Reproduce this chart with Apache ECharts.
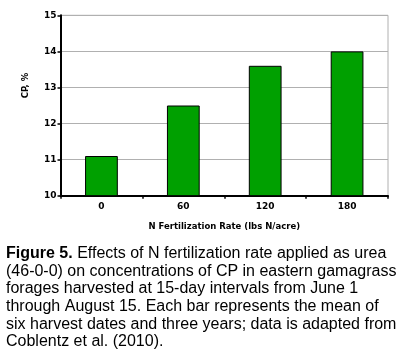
<!DOCTYPE html>
<html><head><meta charset="utf-8">
<script src="https://cdn.jsdelivr.net/npm/echarts@6/dist/echarts.min.js"></script>
<style>html,body{margin:0;padding:0;background:#fff}#c{width:400px;height:358px}</style>
</head><body><div id="c"></div>
<script>
var categories = ['0', '60', '120', '180'];
var cpValues = [11.1, 12.5, 13.6, 14.0];
var captionLines = [
  'Effects of N fertilization rate applied as urea',
  '(46-0-0) on concentrations of CP in eastern gamagrass',
  'forages harvested at 15-day intervals from June 1',
  'through August 15. Each bar represents the mean of',
  'six harvest dates and three years; data is adapted from',
  'Coblentz et al. (2010).'
];
var chart = echarts.init(document.getElementById('c'), null, {renderer: 'canvas'});
var font = 'Arial, "Liberation Sans", sans-serif';
var axFont = '"DejaVu Sans", sans-serif';
chart.setOption({
  animation: false,
  backgroundColor: '#fff',
  title: {
    left: 1, top: 240,
    text: '{b|Figure 5.} ' + captionLines.join('\n'),
    textStyle: {
      fontFamily: font, fontSize: 16, fontWeight: 'normal', color: '#000', lineHeight: 17.6,
      rich: { b: { fontFamily: font, fontSize: 16, fontWeight: 'bold', color: '#000', lineHeight: 17.6 } }
    }
  },
  grid: { left: 60.5, right: 12, top: 15.3, bottom: 162.3, show: true, borderColor: '#b0b0b0', borderWidth: 1 },
  xAxis: {
    type: 'category', data: categories,
    name: 'N Fertilization Rate (lbs N/acre)', nameLocation: 'middle', nameGap: 27,
    nameTextStyle: { fontFamily: axFont, fontSize: 8.5, fontWeight: 'bold', color: '#000' },
    axisLine: { lineStyle: { color: '#000', width: 2 } },
    axisTick: { show: true, length: 3, lineStyle: { color: '#000', width: 1.5 } },
    axisLabel: { fontFamily: axFont, fontSize: 9, fontWeight: 'bold', color: '#000', margin: 6 }
  },
  yAxis: {
    type: 'value', min: 10, max: 15, interval: 1,
    name: 'CP, %', nameLocation: 'middle', nameGap: 30, nameRotate: 90,
    nameTextStyle: { fontFamily: axFont, fontSize: 8.5, fontWeight: 'bold', color: '#000', padding: [0, 0, 0, 40] },
    axisLine: { show: true, lineStyle: { color: '#000', width: 2 } },
    axisTick: { show: true, length: 3, lineStyle: { color: '#000', width: 1.5 } },
    axisLabel: { fontFamily: axFont, fontSize: 9, fontWeight: 'bold', color: '#000', margin: 4 },
    splitLine: { lineStyle: { color: '#b0b0b0', width: 1 } }
  },
  series: [{
    type: 'bar', data: cpValues, barWidth: '40%',
    itemStyle: { color: '#00a000', borderColor: '#000', borderWidth: 1 }
  }]
});
</script></body></html>
